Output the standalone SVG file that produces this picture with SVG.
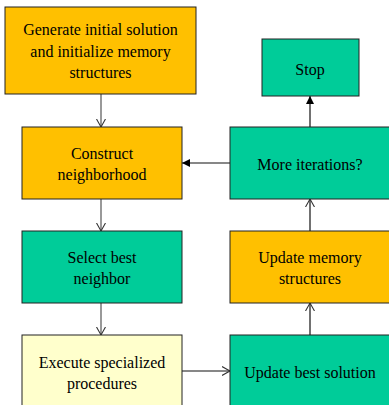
<svg xmlns="http://www.w3.org/2000/svg" width="389" height="405" viewBox="0 0 389 405">
<style>
.box{stroke:#222;stroke-width:1}
.o{fill:#FFC000}
.g{fill:#00CC99}
.y{fill:#FFFFCC}
text{font-family:"Liberation Serif","DejaVu Serif","Noto Serif",serif;font-size:16px;fill:#000;text-anchor:middle}
.c{fill:none;stroke-width:1.2}
.gray{stroke:#555}
.blk{stroke:#111}
</style>
<defs>
<marker id="open" markerWidth="10" markerHeight="10" refX="8" refY="5" orient="auto" markerUnits="userSpaceOnUse">
<path d="M0,0.5 L8,5 L0,9.5" fill="none" stroke="#333" stroke-width="1.1"/>
</marker>
<marker id="fill" markerWidth="10" markerHeight="10" refX="8" refY="4.5" orient="auto" markerUnits="userSpaceOnUse">
<path d="M0,0.5 L8,4.5 L0,8.5 Z" fill="#000"/>
</marker>
</defs>
<g id="connectors">
<line class="c gray" x1="101" y1="94" x2="101" y2="127" marker-end="url(#open)"/>
<line class="c gray" x1="101" y1="199" x2="101" y2="231" marker-end="url(#open)"/>
<line class="c gray" x1="101" y1="303" x2="101" y2="335" marker-end="url(#open)"/>
<line class="c blk" x1="182" y1="371" x2="230" y2="371" marker-end="url(#open)"/>
<line class="c blk" x1="310" y1="335" x2="310" y2="303" marker-end="url(#open)"/>
<line class="c blk" x1="310" y1="231" x2="310" y2="199" marker-end="url(#open)"/>
<line class="c blk" x1="310" y1="127" x2="310" y2="96" marker-end="url(#fill)"/>
<line class="c blk" x1="230" y1="163" x2="182" y2="163" marker-end="url(#fill)"/>
</g>
<g id="generate">
<rect class="box o" x="5" y="7" width="191" height="87"/>
<text x="100.5" y="35" font-family="Liberation Serif">Generate initial solution</text>
<text x="100.5" y="56.5">and initialize memory</text>
<text x="100.5" y="78">structures</text>
</g>
<g id="construct">
<rect class="box o" x="22" y="127" width="160" height="72"/>
<text x="102" y="158.5">Construct</text>
<text x="102" y="179.5">neighborhood</text>
</g>
<g id="select">
<rect class="box g" x="22" y="231" width="160" height="72"/>
<text x="102" y="262.5">Select best</text>
<text x="102" y="284">neighbor</text>
</g>
<g id="execute">
<rect class="box y" x="22" y="335" width="160" height="76"/>
<text x="102" y="367.5">Execute specialized</text>
<text x="102" y="389">procedures</text>
</g>
<g id="stop">
<rect class="box g" x="262" y="39" width="97" height="57"/>
<text x="310" y="75">Stop</text>
</g>
<g id="more">
<rect class="box g" x="230" y="127" width="160" height="72"/>
<text x="310" y="169.5">More iterations?</text>
</g>
<g id="updatememory">
<rect class="box o" x="230" y="231" width="160" height="72"/>
<text x="310" y="262.5">Update memory</text>
<text x="310" y="284">structures</text>
</g>
<g id="updatebest">
<rect class="box g" x="230" y="335" width="160" height="76"/>
<text x="310" y="377.5">Update best solution</text>
</g>
</svg>
